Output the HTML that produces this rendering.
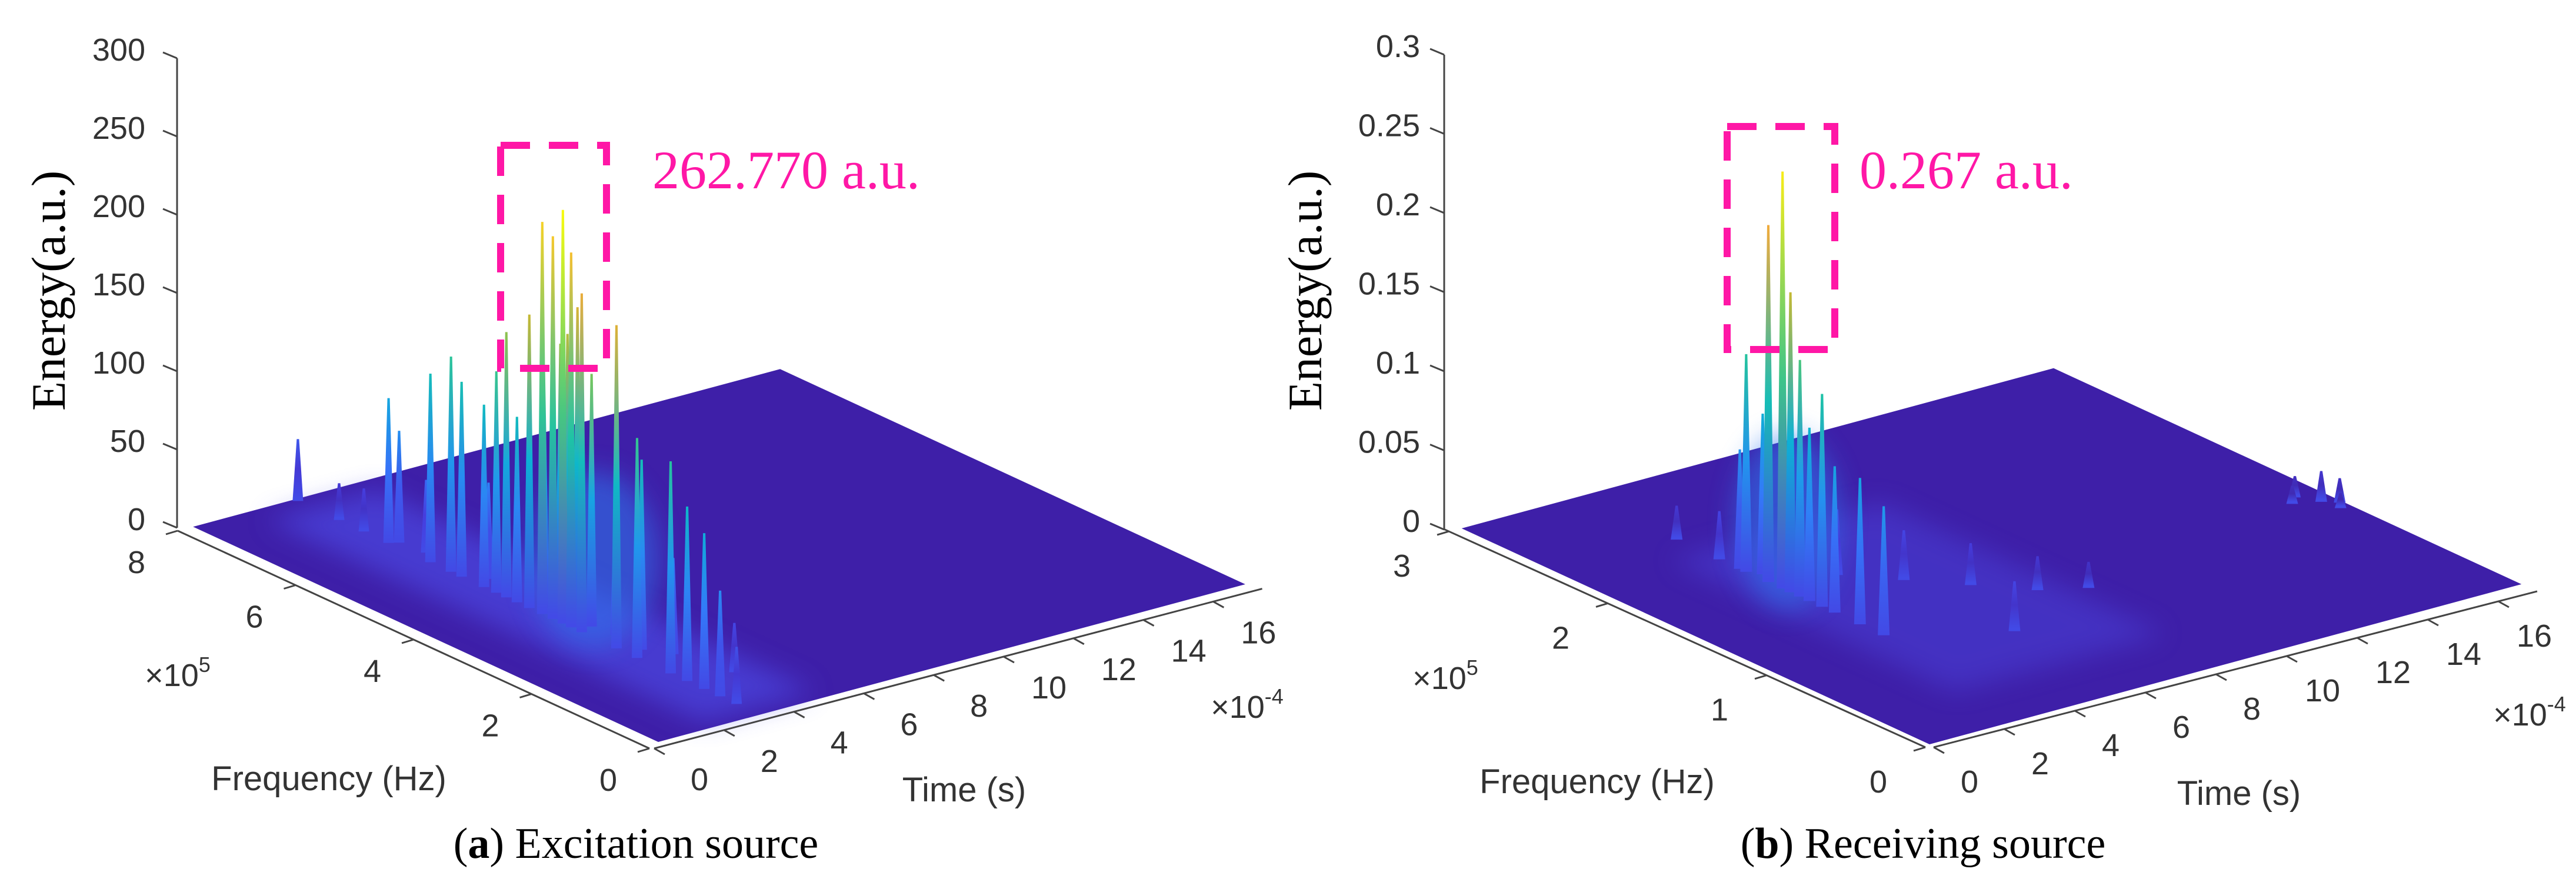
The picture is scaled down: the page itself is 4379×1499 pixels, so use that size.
<!DOCTYPE html>
<html><head><meta charset="utf-8"><style>
html,body{margin:0;padding:0;background:#fff;}
svg{display:block;}
.tk{font-family:"Liberation Sans",Arial,sans-serif;font-size:54px;fill:#333;}
.ttl{font-family:"Liberation Sans",Arial,sans-serif;font-size:58px;fill:#333;}
.ser{font-family:"Liberation Serif","Times New Roman",serif;fill:#000;}
.ann{font-family:"Liberation Serif","Times New Roman",serif;font-size:92px;fill:#ff17a6;}
</style></head><body>
<svg id="fig" width="4379" height="1499" viewBox="0 0 4379 1499" xmlns="http://www.w3.org/2000/svg">
<defs>
<filter id="blur" x="-30%" y="-30%" width="160%" height="160%"><feGaussianBlur stdDeviation="22"/></filter>
</defs>
<g id="left"></g>
<g id="right"></g>
<text class="ser" x="1081" y="1458" font-size="74" text-anchor="middle">(<tspan font-weight="bold">a</tspan>) Excitation source</text>
<text class="ser" x="3269" y="1458" font-size="74" text-anchor="middle">(<tspan font-weight="bold">b</tspan>) Receiving source</text>
</svg>
<script>
// ---- data: left (excitation) ----
const leftFreq = [7.9,7.2,6.78,6.36,6.3,5.9,5.65,5.3,5.12,4.9,4.74,4.53,4.36,4.18,3.97,3.9,3.75,3.68,3.6,3.57,3.5,3.4,3.33,3.26,3.15,3.08,2.8,2.49,2.3,2.14,2.0,1.57,1.29,1.2,1.0,0.73,0.45];
const leftTime = [3,3,3,3,3.2,3.3,3,3,3,3.4,3,3,3,3,3,3.3,3,3.4,3.6,3,3.3,3,3.3,3,3.4,3,3.5,3,3.4,3,3.8,3,3,4.2,3,3,3];
const leftEnergy = [38,22,26,91,70,45,119,136,123,60,115,140,168,117,186,150,249,170,90,243,180,262.77,200,238,160,215,95,205,120,139,60,134,110,30,98,66,35];
const leftZTicks = [0,50,100,150,200,250,300];
const leftZLabels = ["0","50","100","150","200","250","300"];
const leftFTicks = [0,2,4,6,8];
const leftTTicks = [0,2,4,6,8,10,12,14,16];
// ---- data: right (receiving) ----
const rightFreq = [1.98,1.94,1.88,1.80,1.75,1.71,1.66,1.60,1.54,1.46,1.38,1.22,2.11,2.38,1.07,1.5,1.3,1.1,1.7,0.8,1.0,1.3,1.2,1.15,1.25,1.1];
const rightTime = [3.5,3.5,3.7,3.5,3.7,3.5,3.5,3.5,3.5,3.5,3.5,3.5,3.5,3.5,3.5,6,7,8,5,6,9,16.2,16.5,16.8,15.9,16.6];
const rightEnergy = [0.074,0.136,0.1,0.224,0.12,0.262,0.188,0.148,0.108,0.133,0.091,0.091,0.029,0.02,0.08,0.03,0.025,0.02,0.04,0.03,0.015,0.012,0.018,0.014,0.01,0.008];
const rightZTicks = [0,0.05,0.1,0.15,0.2,0.25,0.3];
const rightZLabels = ["0","0.05","0.1","0.15","0.2","0.25","0.3"];
const rightFTicks = [0,1,2,3];
const rightTTicks = [0,2,4,6,8,10,12,14,16];

const NS="http://www.w3.org/2000/svg";
const defs=document.querySelector('defs');
function mk(tag,attrs,parent){const e=document.createElementNS(NS,tag);for(const k in attrs)e.setAttribute(k,attrs[k]);parent.appendChild(e);return e;}
const PAR=[[0,[62,38,168]],[0.1,[70,62,225]],[0.2,[52,120,250]],[0.3,[30,155,235]],[0.4,[10,180,210]],[0.5,[30,195,165]],[0.6,[110,200,95]],[0.7,[195,185,50]],[0.85,[245,170,60]],[0.95,[245,210,40]],[1,[249,251,14]]];
function parula(v){v=Math.max(0,Math.min(1,v));for(let i=1;i<PAR.length;i++){if(v<=PAR[i][0]){const a=PAR[i-1],b=PAR[i];const u=(v-a[0])/(b[0]-a[0]);const c=a[1].map((x,j)=>Math.round(x+(b[1][j]-x)*u));return `rgb(${c[0]},${c[1]},${c[2]})`;}}return 'rgb(249,251,14)';}
let gid=0;
function panel(g,cfg,freq,time,energy,zt,zl,ft,tt){
  const P=(t,f,z)=>[cfg.front[0]+t*cfg.vT[0]+f*cfg.vF[0], cfg.front[1]+t*cfg.vT[1]+f*cfg.vF[1]-z*cfg.zs];
  const c=[P(0,0,0),P(cfg.tmax,0,0),P(cfg.tmax,cfg.fmax,0),P(0,cfg.fmax,0)];
  const pl=mk('polygon',{points:c.map(p=>p.join(',')).join(' '),fill:'#3e1fa8'},g);
  
  
  const hz=[P(cfg.h[0],cfg.h[2],0),P(cfg.h[1],cfg.h[2],0),P(cfg.h[1],cfg.h[3],0),P(cfg.h[0],cfg.h[3],0)];
  const hp=mk('polygon',{points:hz.map(p=>p.join(',')).join(' '),fill:'#4f52f2',opacity:cfg.ho,filter:'url(#blur)'},g);
  
  
  const gl=P(cfg.glow[0],cfg.glow[1],0);
  const ge=mk('ellipse',{cx:gl[0],cy:gl[1]-cfg.glow[4],rx:cfg.glow[2],ry:cfg.glow[3],fill:'#2f78f0',opacity:0.55,filter:'url(#blur)'},g);
  
  
  const idx=freq.map((_,i)=>i).sort((a,b)=>P(time[a],freq[a],0)[1]-P(time[b],freq[b],0)[1]);
  const sg=mk('g',{},g);
  
  
  idx.forEach(i=>{
    const b=P(time[i],freq[i],0), tp=P(time[i],freq[i],energy[i]);
    const id='sg'+(gid++);
    const lg=mk('linearGradient',{id:id,gradientUnits:'userSpaceOnUse',x1:b[0],y1:b[1],x2:tp[0],y2:tp[1]},defs);
    const v=energy[i]/cfg.zmax;
    [[0,0.12],[0.5,v*0.55],[1,v]].forEach(s=>mk('stop',{offset:s[0],'stop-color':parula(s[1])},lg));
    const w=cfg.sw;
    const sp=mk('polygon',{points:`${b[0]-w},${b[1]+4} ${b[0]+w},${b[1]+4} ${tp[0]+2},${tp[1]} ${tp[0]-2},${tp[1]}`,fill:`url(#${id})`},sg);
    
    
  });
  const ax={stroke:'#444','stroke-width':3,fill:'none'};
  const z0=cfg.zAxis[1], zx=cfg.zAxis[0];
  const zl_=mk('line',Object.assign({x1:zx,y1:z0,x2:zx,y2:z0-zt[zt.length-1]*cfg.zs},ax),g);
  
  
  zt.forEach((v,i)=>{const y=z0-v*cfg.zs;
    mk('line',Object.assign({x1:zx,y1:y,x2:zx-24,y2:y-10},ax),g);
    const t=mk('text',{x:cfg.zLabX,y:y+4,'text-anchor':'end',class:'tk'},g);t.textContent=zl[i];
    
    });
  const F=(f)=>[cfg.f0[0]+f*cfg.fu[0],cfg.f0[1]+f*cfg.fu[1]];
  const fa=mk('line',Object.assign({x1:F(0)[0],y1:F(0)[1],x2:F(cfg.fAxMax)[0],y2:F(cfg.fAxMax)[1]},ax),g);
  
  
  ft.forEach(v=>{const p=F(v);
    mk('line',Object.assign({x1:p[0],y1:p[1],x2:p[0]-20,y2:p[1]+6},ax),g);
    const t=mk('text',{x:p[0]+cfg.fLab[0],y:p[1]+cfg.fLab[1]+20,'text-anchor':'middle',class:'tk'},g);t.textContent=v;
    
    });
  const T=(t)=>[cfg.t0[0]+t*cfg.tu[0],cfg.t0[1]+t*cfg.tu[1]];
  const ta=mk('line',Object.assign({x1:T(0)[0],y1:T(0)[1],x2:T(cfg.tAxMax)[0],y2:T(cfg.tAxMax)[1]},ax),g);
  
  
  tt.forEach(v=>{const p=T(v);
    mk('line',Object.assign({x1:p[0],y1:p[1],x2:p[0]+18,y2:p[1]+10},ax),g);
    const t=mk('text',{x:p[0]+cfg.tLab[0],y:p[1]+cfg.tLab[1]+20,'text-anchor':'middle',class:'tk'},g);t.textContent=v;
    
    });
}
const L=document.getElementById('left'), R=document.getElementById('right');
panel(L,{front:[1119,1261],vT:[59.4,-15.95],vF:[-100.1,-46.3],zs:2.66,tmax:16.8,fmax:7.9,zmax:262.77,sw:9,h:[1.6,4.8,0.2,7.6],ho:0.55,glow:[3.2,3.0,110,150,120],
  zAxis:[301,897],zLabX:247,f0:[1104,1272],fu:[-100.25,-46.25],fAxMax:8,fLab:[-70,52],t0:[1112,1272],tu:[59.4,-15.6],tAxMax:17.4,tLab:[77,51]},
  leftFreq,leftTime,leftEnergy,leftZTicks,leftZLabels,leftFTicks,leftTTicks);
panel(R,{front:[3280,1265],vT:[59.9,-16.2],vF:[-268.7,-124],zs:2690,tmax:16.8,fmax:2.96,zmax:0.267,sw:10,h:[2.5,8.5,0.4,2.2],ho:0.35,glow:[3.6,1.7,90,150,110],
  zAxis:[2455,900],zLabX:2414,f0:[3273,1270],fu:[-270,-122.3],fAxMax:3.03,fLab:[-80,57],t0:[3287,1270],tu:[60,-15.5],tAxMax:17.1,tLab:[61,57]},
  rightFreq,rightTime,rightEnergy,rightZTicks,rightZLabels,rightFTicks,rightTTicks);
</script>
<svg style="position:absolute;left:0;top:0" width="4379" height="1499">
<g>
<text class="ser" font-size="82" transform="translate(110,494) rotate(-90)" text-anchor="middle">Energy(a.u.)</text>
<text class="ttl" x="559" y="1343" text-anchor="middle">Frequency (Hz)</text>
<text class="ttl" x="1639" y="1362" text-anchor="middle">Time (s)</text>
<text class="tk" x="302" y="1166" text-anchor="middle">×10<tspan font-size="36" dy="-24">5</tspan></text>
<text class="tk" x="2120" y="1220" text-anchor="middle">×10<tspan font-size="36" dy="-24">-4</tspan></text>
<rect x="851" y="247" width="180" height="379" fill="none" stroke="#ff17a6" stroke-width="12" stroke-dasharray="50,32"/>
<text class="ann" x="1109" y="320">262.770 a.u.</text>
</g>
<g>
<text class="ser" font-size="82" transform="translate(2246,494) rotate(-90)" text-anchor="middle">Energy(a.u.)</text>
<text class="ttl" x="2715" y="1348" text-anchor="middle">Frequency (Hz)</text>
<text class="ttl" x="3806" y="1368" text-anchor="middle">Time (s)</text>
<text class="tk" x="2457" y="1171" text-anchor="middle">×10<tspan font-size="36" dy="-24">5</tspan></text>
<text class="tk" x="4300" y="1233" text-anchor="middle">×10<tspan font-size="36" dy="-24">-4</tspan></text>
<rect x="2936" y="215" width="183" height="379" fill="none" stroke="#ff17a6" stroke-width="12" stroke-dasharray="50,32"/>
<text class="ann" x="3161" y="320">0.267 a.u.</text>
</g>
</svg>
</body></html>
